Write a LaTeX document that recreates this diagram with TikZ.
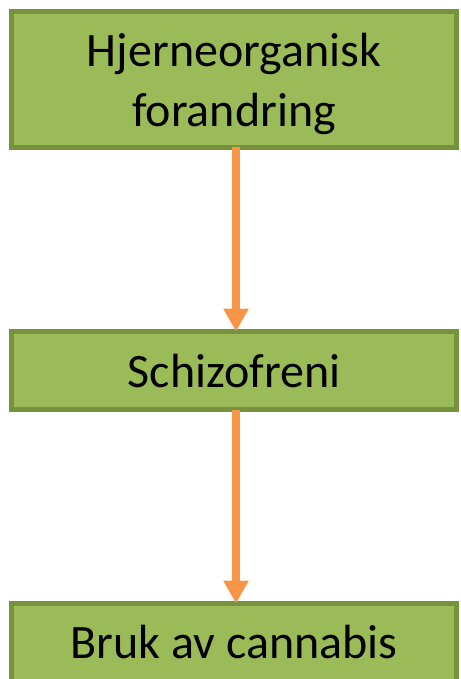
\documentclass[tikz,border=0pt]{standalone}
\usepackage{fontspec}
\setmainfont{Carlito}
\usetikzlibrary{arrows.meta}
\definecolor{boxfill}{HTML}{9BBB59}
\definecolor{boxline}{HTML}{76923C}
\definecolor{arrowc}{HTML}{F79646}
\begin{document}
\begin{tikzpicture}[x=1pt,y=1pt,
  gbox/.style={draw=boxline,fill=boxfill,line width=5pt,outer sep=0pt,inner sep=0pt,
    minimum width=445pt,align=center,font=\fontsize{48}{60}\selectfont,text=black},
  flow/.style={draw=arrowc,line width=8pt,-{Triangle[width=24pt,length=23pt]}}]
\useasboundingbox (0,0) rectangle (460,-679);
\begin{scope}
\clip (0,0) rectangle (460,-679);
\node[gbox,minimum height=136pt,text depth=0pt] (a) at (234,-79.5) {Hjerneorganisk\\forandring\rule[-14pt]{0pt}{1pt}};
\node[gbox,minimum height=78pt] (b) at (234,-370.5) {Schizofreni};
\node[gbox,minimum height=78pt] (c) at (234,-642.5) {Bruk av cannabis};
\draw[flow] ([xshift=2pt]a.south) -- ([xshift=2pt]b.north);
\draw[flow] ([xshift=2pt]b.south) -- ([xshift=2pt]c.north);
\end{scope}
\end{tikzpicture}
\end{document}
